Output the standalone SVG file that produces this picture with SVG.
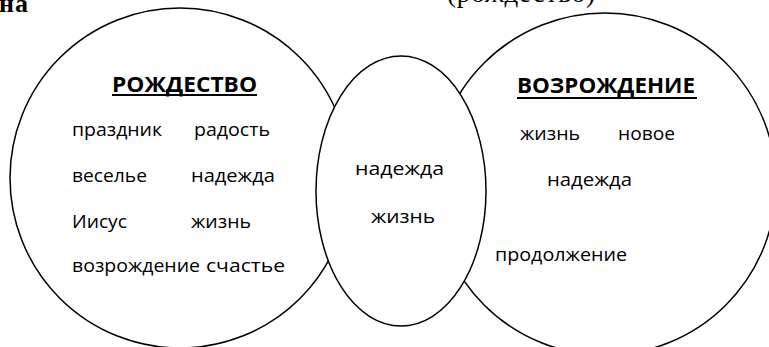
<svg xmlns="http://www.w3.org/2000/svg" width="769" height="347" viewBox="0 0 769 347">
<style>
.shape{fill:#fff;stroke:#000;stroke-width:1.5}
.w{font-family:"Open Sans","Liberation Sans",sans-serif;font-size:18.5px;fill:#000}
.h{font-family:"Open Sans","Liberation Sans",sans-serif;font-size:22px;font-weight:bold;fill:#000}
.ul{stroke:#000;stroke-width:2}
.serif{font-family:"Liberation Serif",serif;fill:#000}
</style>
<rect width="769" height="347" fill="#fff"/>
<text class="serif" x="-1" y="12" font-size="26" font-weight="bold" textLength="29">на</text>
<text class="serif" x="447" y="2" font-size="27" textLength="148">(рождество)</text>
<g id="connectors"></g>
<g id="rozhdestvo">
<circle class="shape" cx="180" cy="178" r="170"/>
<text class="h" x="112" y="92" textLength="145" lengthAdjust="spacingAndGlyphs">РОЖДЕСТВО</text>
<line class="ul" x1="112" y1="95" x2="257" y2="95"/>
<text class="w" x="72" y="136" textLength="90" lengthAdjust="spacingAndGlyphs">праздник</text>
<text class="w" x="194" y="136" textLength="76" lengthAdjust="spacingAndGlyphs">радость</text>
<text class="w" x="72" y="182" textLength="75" lengthAdjust="spacingAndGlyphs">веселье</text>
<text class="w" x="191" y="182" textLength="84" lengthAdjust="spacingAndGlyphs">надежда</text>
<text class="w" x="72" y="228" textLength="55" lengthAdjust="spacingAndGlyphs">Иисус</text>
<text class="w" x="191" y="228" textLength="60" lengthAdjust="spacingAndGlyphs">жизнь</text>
<text class="w" x="72" y="272" textLength="128" lengthAdjust="spacingAndGlyphs">возрождение</text>
<text class="w" x="206" y="272" textLength="79" lengthAdjust="spacingAndGlyphs">счастье</text>
</g>
<g id="vozrozhdenie">
<circle class="shape" cx="605" cy="184" r="171"/>
<text class="h" x="517" y="93" textLength="178" lengthAdjust="spacingAndGlyphs">ВОЗРОЖДЕНИЕ</text>
<line class="ul" x1="517" y1="98" x2="697" y2="98"/>
<text class="w" x="520" y="140" textLength="60" lengthAdjust="spacingAndGlyphs">жизнь</text>
<text class="w" x="618" y="140" textLength="57" lengthAdjust="spacingAndGlyphs">новое</text>
<text class="w" x="547" y="186" textLength="85" lengthAdjust="spacingAndGlyphs">надежда</text>
<text class="w" x="495" y="261" textLength="132" lengthAdjust="spacingAndGlyphs">продолжение</text>
</g>
<g id="common">
<ellipse class="shape" cx="401" cy="191" rx="85" ry="135"/>
<text class="w" x="355" y="175" textLength="89" lengthAdjust="spacingAndGlyphs">надежда</text>
<text class="w" x="371" y="223" textLength="64" lengthAdjust="spacingAndGlyphs">жизнь</text>
</g>
</svg>
